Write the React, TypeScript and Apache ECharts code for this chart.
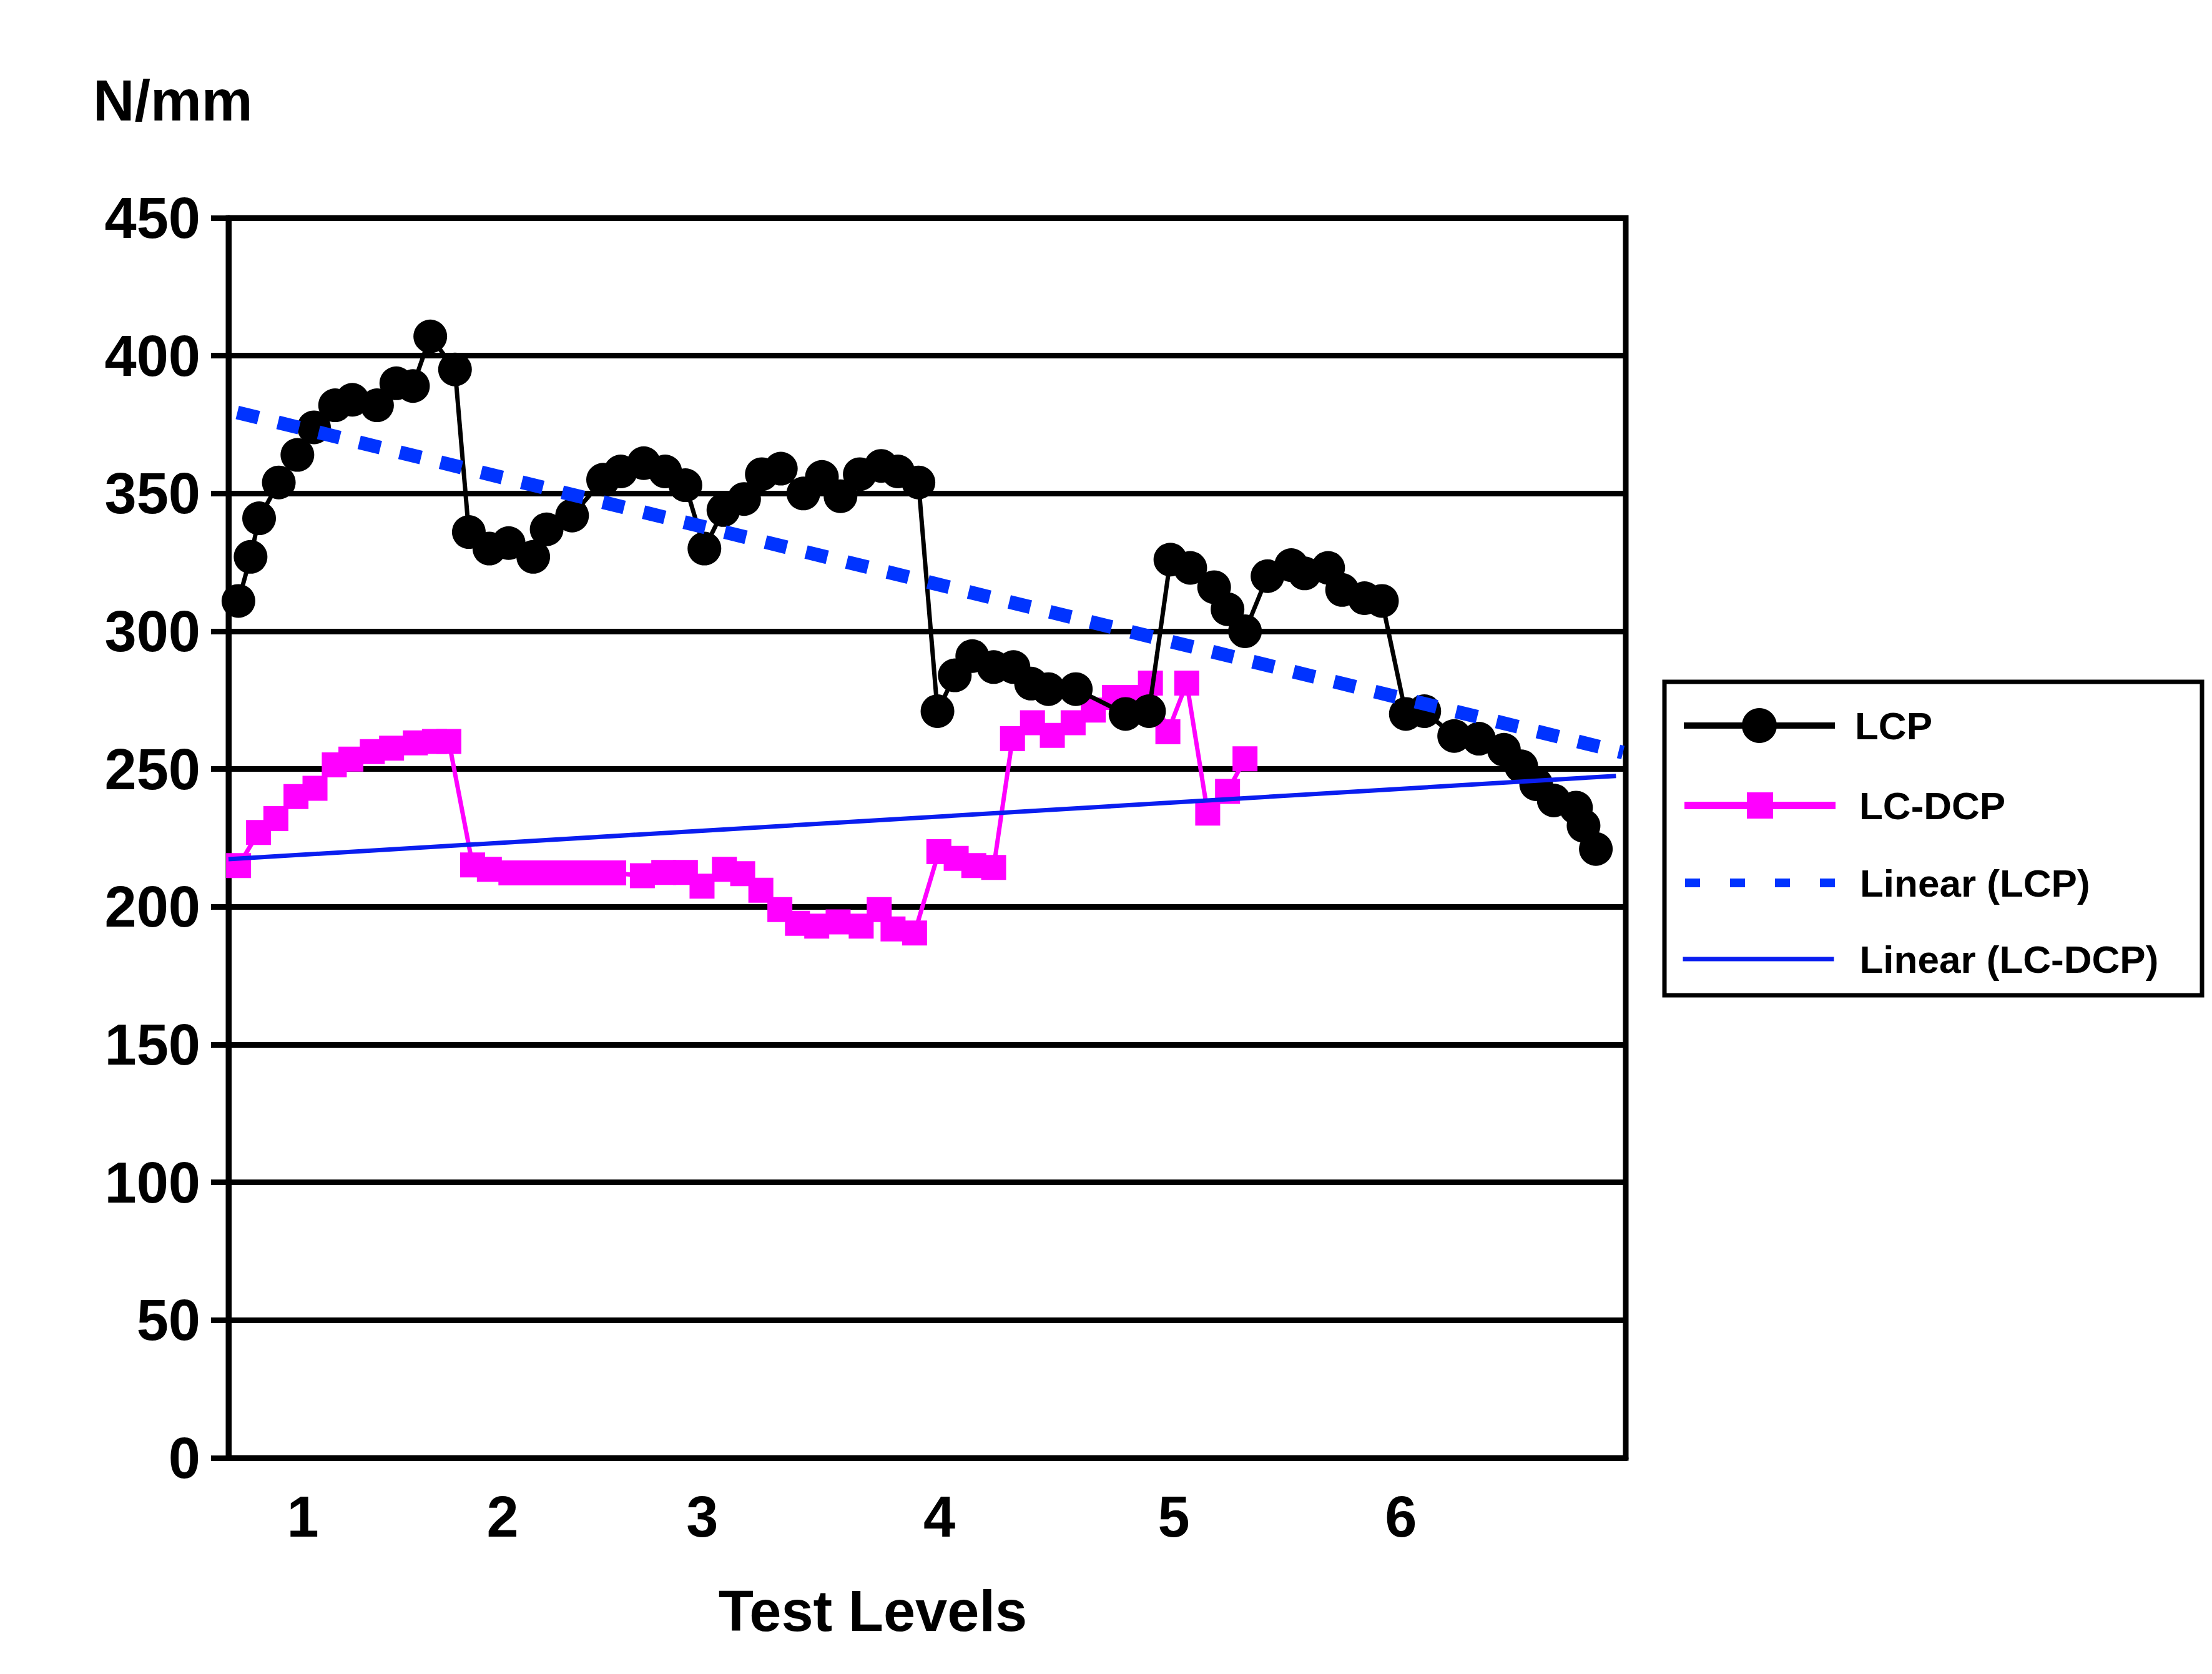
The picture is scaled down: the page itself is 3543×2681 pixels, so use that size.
import React, { useEffect, useRef } from "react";
import * as echarts from "echarts";

// x positions are expressed on a 0–100 scale across the plot width
const LEVEL_LABELS = ["1", "2", "3", "4", "5", "6"];
const LEVEL_POS = [5.32, 19.62, 33.91, 50.88, 67.65, 83.91];

const LCP_X = [
  0.71, 1.58, 2.19, 3.6, 4.93, 6.12, 7.63, 8.86, 10.63, 12.01, 13.2, 14.44, 16.21, 17.2,
  18.67, 20.05, 21.81, 22.77, 24.59, 26.81, 28.07, 29.72, 31.25, 32.7, 34.06, 35.42, 36.9,
  38.17, 39.53, 41.14, 42.47, 43.8, 45.18, 46.71, 47.91, 49.38, 50.74, 51.98, 53.23, 54.76,
  56.18, 57.44, 58.68, 60.64, 64.2, 65.88, 67.41, 68.83, 70.54, 71.5, 72.75, 74.36, 76.06,
  77.02, 78.7, 79.7, 81.3, 82.55, 84.26, 85.58, 87.72, 89.49, 91.28, 92.52, 93.59, 94.85,
  96.44, 96.98, 97.86,
];
const LCP_Y = [
  311, 327, 341, 354, 364, 374, 382, 384, 382, 390, 389, 407, 395, 336, 330, 332, 327, 337,
  342, 355, 358, 361, 358, 353, 330, 344, 348, 357, 359, 350, 356, 349, 357, 360, 358, 354,
  271, 284, 291, 287, 287, 281, 279, 279, 270, 271, 326, 323, 316, 308, 300, 320, 324, 321,
  323, 315, 312, 311, 270, 271, 262, 261, 257, 251, 244.5, 238.6, 236, 229.4, 221,
];

const LCDCP_X = [
  0.72, 2.15, 3.39, 4.83, 6.19, 7.57, 8.76, 10.29, 11.67, 13.37, 14.74, 15.77, 17.47, 18.67,
  20.21, 21.68, 23.15, 24.62, 26.09, 27.57, 29.62, 31.15, 32.7, 33.89, 35.49, 36.8, 38.1,
  39.46, 40.72, 42.1, 43.63, 45.28, 46.57, 47.56, 49.1, 50.84, 52.08, 53.34, 54.76, 56.11,
  57.54, 58.96, 60.45, 61.89, 63.41, 64.93, 65.98, 67.23, 68.58, 70.08, 71.5, 72.75,
];
const LCDCP_Y = [
  215, 227, 232, 240, 243, 251.5, 253.6, 256.3, 257.6, 259.5, 260, 260, 215.2, 213.6, 212.3,
  212.3, 212.3, 212.3, 212.3, 212.3, 211.3, 212.5, 212.5, 207.5, 213.6, 212, 206, 199, 194,
  193, 194.5, 193, 199, 192, 190.5, 220, 217.6, 215, 214.3, 261, 266.8, 262.2, 266.8, 271.4,
  276, 276, 281.2, 263.5, 281.2, 234, 241.9, 253.7,
];

const TREND_LCP_X = [0.63, 99.8];
const TREND_LCP_Y = [379.4, 256];
const TREND_LCDCP_X = [0, 99.3];
const TREND_LCDCP_Y = [217.3, 247.5];

const Y_TICKS = [0, 50, 100, 150, 200, 250, 300, 350, 400, 450];

const FONT = "'Liberation Sans', Arial, sans-serif";

const zip = (xs: number[], ys: number[]) => xs.map((x, i) => [x, ys[i]]);

export default function App() {
  const ref = useRef<HTMLDivElement>(null);

  useEffect(() => {
    if (!ref.current) return;
    const chart = echarts.init(ref.current, undefined, { renderer: "svg" });

    const legendBase = (
      name: string,
      top: number,
      itemHeight: number,
      padLeft: number,
      lineStyle: any,
      hideSymbol: boolean
    ) => ({
      show: true,
      data: [name],
      left: 2692,
      top,
      orient: "vertical",
      padding: 0,
      itemWidth: 242,
      itemHeight,
      selectedMode: false,
      lineStyle,
      ...(hideSymbol ? { itemStyle: { color: "rgba(0,0,0,0)", borderWidth: 0, opacity: 0 } } : {}),
      textStyle: {
        fontFamily: FONT,
        fontWeight: "bold",
        fontSize: 62,
        color: "#000",
        padding: [0, 0, 0, padLeft],
      },
    });

    const option: any = {
      animation: false,
      backgroundColor: "#ffffff",
      title: {
        text: "N/mm",
        left: 149,
        top: 115,
        padding: 0,
        textStyle: { fontFamily: FONT, fontWeight: "bold", fontSize: 92, color: "#000" },
      },
      grid: {
        left: 366,
        right: 939,
        top: 349,
        bottom: 346,
        show: true,
        borderColor: "#000",
        borderWidth: 9,
        backgroundColor: "#fff",
      },
      legend: [
        legendBase("LCP", 1131, 70, 27, { width: 10, color: "#000" }, false),
        legendBase("LC-DCP", 1259, 52.5, 33, { width: 12, color: "#ff00ff" }, false),
        legendBase(
          "Linear (LCP)",
          1383,
          30,
          33,
          { width: 14, color: "#0033ff", type: [24, 48], cap: "butt" },
          true
        ),
        legendBase("Linear (LC-DCP)", 1505, 30, 36, { width: 7, color: "#0a1ef0" }, true),
      ],
      graphic: [
        {
          type: "rect",
          shape: { x: 2666, y: 1092, width: 861, height: 502 },
          style: { fill: "transparent", stroke: "#000", lineWidth: 7 },
          z: 0,
          silent: true,
        },
      ],
      xAxis: {
        type: "value",
        min: 0,
        max: 100,
        name: "Test Levels",
        nameLocation: "middle",
        nameGap: 199,
        nameTextStyle: {
          fontFamily: FONT,
          fontWeight: "bold",
          fontSize: 92,
          color: "#000",
          padding: [0, 174, 0, 0],
        },
        axisLine: { show: true, lineStyle: { color: "#000", width: 9 } },
        axisTick: { show: false },
        splitLine: { show: false },
        axisLabel: {
          customValues: LEVEL_POS,
          margin: 48,
          fontFamily: FONT,
          fontWeight: "bold",
          fontSize: 92,
          color: "#000",
          formatter: (v: number) => {
            let best = 0;
            for (let i = 1; i < LEVEL_POS.length; i++) {
              if (Math.abs(LEVEL_POS[i] - v) < Math.abs(LEVEL_POS[best] - v)) best = i;
            }
            return LEVEL_LABELS[best];
          },
        },
      },
      yAxis: {
        type: "value",
        min: Y_TICKS[0],
        max: Y_TICKS[Y_TICKS.length - 1],
        interval: 50,
        axisLine: { show: true, lineStyle: { color: "#000", width: 9 } },
        axisTick: { show: true, length: 28, lineStyle: { color: "#000", width: 9 } },
        splitLine: { show: true, lineStyle: { color: "#000", width: 9 } },
        axisLabel: {
          margin: 45,
          fontFamily: FONT,
          fontWeight: "bold",
          fontSize: 92,
          color: "#000",
        },
      },
      series: [
        {
          name: "LC-DCP",
          type: "line",
          data: zip(LCDCP_X, LCDCP_Y),
          symbol: "rect",
          symbolSize: 40,
          showAllSymbol: true,
          lineStyle: { color: "#ff00ff", width: 7 },
          itemStyle: { color: "#ff00ff" },
          z: 2,
        },
        {
          name: "LCP",
          type: "line",
          data: zip(LCP_X, LCP_Y),
          symbol: "circle",
          symbolSize: 54,
          showAllSymbol: true,
          lineStyle: { color: "#000", width: 7 },
          itemStyle: { color: "#000" },
          z: 3,
        },
        {
          name: "Linear (LCP)",
          type: "line",
          data: zip(TREND_LCP_X, TREND_LCP_Y),
          symbol: "none",
          lineStyle: { color: "#0033ff", width: 22, type: [35, 32], cap: "butt" },
          itemStyle: { color: "#0033ff" },
          z: 4,
        },
        {
          name: "Linear (LC-DCP)",
          type: "line",
          data: zip(TREND_LCDCP_X, TREND_LCDCP_Y),
          symbol: "none",
          lineStyle: { color: "#0a1ef0", width: 7 },
          itemStyle: { color: "#0a1ef0" },
          z: 4,
        },
      ],
    };

    chart.setOption(option);
    return () => chart.dispose();
  }, []);

  return (
    <div
      ref={ref}
      style={{ position: "absolute", left: 0, top: 0, width: 3543, height: 2681, background: "#fff" }}
    />
  );
}
